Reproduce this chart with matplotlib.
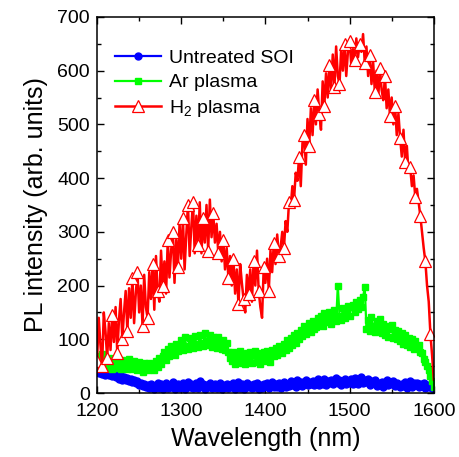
import matplotlib
matplotlib.use("Agg")
import matplotlib.pyplot as plt
import numpy as np
from matplotlib.ticker import MultipleLocator

plt.rcParams["font.family"] = ["Liberation Sans", "DejaVu Sans"]
plt.rcParams["mathtext.default"] = "regular"

# wavelength grid, 2 nm steps (1200..1600)
wavelength = np.arange(1200, 1601, 2)

untreated = [
    45, 38, 42, 36, 40, 34, 39, 33, 37, 31,
    35, 29, 33, 27, 31, 25, 30, 24, 28, 22,
    26, 20, 24, 18, 22, 15, 19, 13, 17, 11,
    15, 9, 17, 11, 7, 14, 19, 10, 16, 8,
    13, 18, 9, 15, 11, 20, 8, 14, 17, 10,
    12, 18, 8, 15, 20, 11, 16, 9, 14, 19,
    10, 22, 13, 17, 8, 15, 12, 18, 9, 14,
    17, 10, 13, 19, 8, 15, 11, 17, 9, 14,
    12, 18, 8, 14, 20, 10, 16, 7, 13, 18,
    11, 15, 9, 17, 12, 19, 8, 14, 10, 16,
    13, 18, 9, 15, 21, 11, 17, 12, 19, 10,
    15, 20, 11, 17, 13, 22, 14, 19, 12, 24,
    16, 21, 13, 18, 25, 14, 20, 17, 23, 15,
    19, 26, 14, 21, 17, 27, 15, 22, 18, 25,
    16, 23, 28, 18, 24, 15, 21, 27, 17, 23,
    19, 26, 16, 28, 21, 17, 24, 30, 18, 25,
    20, 27, 15, 22, 18, 24, 13, 19, 16, 21,
    12, 18, 24, 14, 20, 16, 23, 13, 19, 15,
    11, 17, 13, 20, 10, 16, 22, 12, 18, 14,
    19, 11, 16, 13, 18, 10, 15, 12, 14, 9,
    7,
]

ar_plasma = [
    68, 52, 62, 72, 48, 60, 46, 66, 56, 44,
    60, 46, 66, 52, 44, 62, 50, 58, 45, 64,
    56, 44, 60, 48, 42, 58, 47, 40, 56, 46,
    43, 56, 45, 54, 42, 60, 48, 66, 54, 68,
    76, 62, 82, 68, 88, 74, 70, 92, 78, 90,
    98, 80, 104, 88, 82, 102, 90, 84, 106, 92,
    86, 108, 94, 88, 112, 96, 90, 108, 86, 104,
    98, 84, 104, 90, 82, 98, 80, 94, 76, 66,
    60, 76, 54, 70, 58, 78, 56, 68, 54, 74,
    58, 76, 56, 70, 78, 58, 74, 54, 68, 76,
    60, 78, 66, 58, 80, 68, 84, 70, 88, 76,
    74, 92, 80, 98, 84, 102, 90, 108, 94, 112,
    100, 118, 106, 124, 110, 120, 130, 114, 134, 120,
    122, 140, 128, 144, 124, 148, 132, 140, 150, 128,
    140, 154, 134, 200, 144, 136, 158, 140, 152, 162,
    144, 160, 164, 150, 170, 156, 174, 160, 178, 197,
    120, 136, 116, 142, 124, 114, 134, 118, 138, 112,
    128, 108, 124, 104, 120, 126, 102, 118, 100, 116,
    96, 112, 92, 108, 90, 102, 86, 100, 82, 96,
    86, 90, 76, 74, 64, 58, 50, 42, 32, 22,
    12,
]

h2_plasma = [
    60, 140, 90, 50, 150, 115, 65, 130, 80, 145,
    95, 160, 75, 135, 175, 100, 150, 190, 115, 195,
    140, 215, 130, 185, 225, 150, 200, 125, 220, 160,
    140, 225, 175, 240, 155, 255, 190, 170, 265, 200,
    245, 185, 285, 215, 265, 300, 205, 285, 235, 315,
    250, 325, 230, 295, 350, 255, 310, 355, 260, 330,
    275, 355, 260, 325, 280, 350, 265, 360, 290, 335,
    280, 315, 260, 300, 245, 285, 230, 270, 215, 255,
    200, 250, 185, 230, 165, 240, 205, 175, 150, 220,
    185, 230, 170, 245, 200, 265, 190, 160, 140, 235,
    205, 250, 190, 265, 225, 280, 240, 295, 255, 270,
    300, 270, 320, 300, 355, 345, 385, 360, 410, 395,
    440, 385, 465, 480, 425, 510, 460, 530, 480, 545,
    500, 565, 520, 490, 580, 535, 595, 550, 610, 565,
    630, 570, 645, 590, 575, 640, 600, 650, 590, 635,
    655, 610, 640, 620, 660, 625, 650, 635, 668, 615,
    645, 590, 630, 575, 615, 560, 600, 550, 605, 565,
    545, 590, 530, 565, 515, 550, 500, 535, 480, 520,
    475, 440, 490, 430, 460, 410, 420, 385, 405, 365,
    380, 355, 330, 300, 270, 245, 200, 170, 110, 70,
    25,
]

labels = ["Untreated SOI", "Ar plasma", "H$_2$ plasma"]

fig = plt.figure(figsize=(4.6, 4.57), dpi=100)
ax = fig.add_axes([0.211, 0.140, 0.732, 0.823])

ax.plot(wavelength, untreated, color="#0000ff", lw=1.6, marker="o", ms=5,
        mec="#0000ff", mfc="#0000ff", label=labels[0])
ax.plot(wavelength, ar_plasma, color="#00ff00", lw=1.6, marker="s", ms=5,
        mec="#00ff00", mfc="#00ff00", label=labels[1])
ax.plot(wavelength, h2_plasma, color="#ff0000", lw=1.8, marker="^", ms=8,
        mec="#ff0000", mfc="white", mew=0.9, markevery=3, label=labels[2])

ax.set_xlim(1200, 1600)
ax.set_ylim(0, 700)
ax.xaxis.set_major_locator(MultipleLocator(100))
ax.xaxis.set_minor_locator(MultipleLocator(50))
ax.yaxis.set_major_locator(MultipleLocator(100))
ax.yaxis.set_minor_locator(MultipleLocator(50))
ax.tick_params(which="both", direction="in", top=True, right=True, labelsize=14, width=1)
ax.tick_params(which="major", length=5)
ax.tick_params(which="minor", length=3)
ax.tick_params(axis="x", pad=7)
ax.tick_params(axis="y", pad=5)
for sp in ax.spines.values():
    sp.set_linewidth(1.1)

ax.set_xlabel("Wavelength (nm)", fontsize=18, labelpad=5)
ax.set_ylabel("PL intensity (arb. units)", fontsize=18, labelpad=7)

ax.legend(loc="upper left", frameon=False, fontsize=14, handlelength=2.4,
          borderaxespad=0.3, labelspacing=0.35, handletextpad=0.4,
          bbox_to_anchor=(0.012, 0.95))

fig.savefig("out.png", dpi=100)
